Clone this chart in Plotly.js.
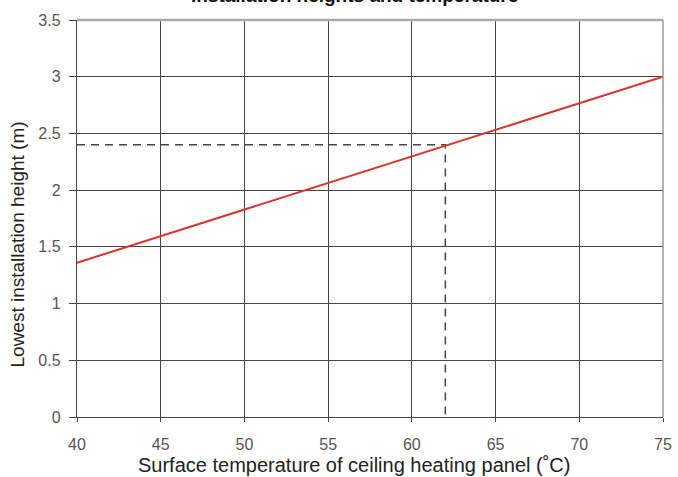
<!DOCTYPE html>
<html>
<head>
<meta charset="utf-8">
<script src="https://cdn.plot.ly/plotly-3.0.1.min.js"></script>
<style>html,body{margin:0;padding:0;background:#fff;}#chart{width:678px;height:477px;}</style>
</head>
<body>
<div id="chart"></div>
<script>
const chartTitle = "Installation heights and temperature";
const xTitle = "Surface temperature of ceiling heating panel (\u02DAC)";
const yTitle = "Lowest installation height (m)";
const lineTemp = [40, 75];
const lineHeight = [1.36, 3.0];
const refTemp = 62;
const refHeight = 2.4;
const xStart = 40;
const yStart = 0;
const xTicks = [40, 45, 50, 55, 60, 65, 70, 75];
const yTicks = [0, 0.5, 1, 1.5, 2, 2.5, 3, 3.5];
const yTickText = ["0", "0.5", "1", "1.5", "2", "2.5", "3", "3.5"];

const traces = [
  {
    x: [xStart, refTemp, refTemp],
    y: [refHeight, refHeight, yStart],
    mode: "lines",
    line: {color: "#444", width: 1.5, dash: "8px,6px"},
    hoverinfo: "skip"
  },
  {
    x: lineTemp,
    y: lineHeight,
    mode: "lines",
    line: {color: "#d8332f", width: 2},
    hoverinfo: "skip"
  }
];

const layout = {
  width: 678, height: 477,
  margin: {l: 77, r: 15, t: 20, b: 60},
  paper_bgcolor: "#fff", plot_bgcolor: "#fff",
  showlegend: false,
  font: {family: "Arial, Liberation Sans, sans-serif", color: "#333"},
  xaxis: {
    range: [40, 75], tickvals: xTicks, ticktext: xTicks.map(String),
    showgrid: true, gridcolor: "#444", gridwidth: 1.2,
    zeroline: false, showline: true, linecolor: "#444", linewidth: 1.2,
    ticks: "outside", ticklen: 4, tickcolor: "#444",
    ticklabelstandoff: 9,
    tickfont: {size: 16, color: "#555"}
  },
  yaxis: {
    range: [0, 3.5], tickvals: yTicks, ticktext: yTickText,
    showgrid: true, gridcolor: "#444", gridwidth: 1.2,
    zeroline: false, showline: true, linecolor: "#444", linewidth: 1.2,
    ticks: "outside", ticklen: 7, tickcolor: "#444",
    ticklabelstandoff: 5,
    tickfont: {size: 16, color: "#555"}
  },
  shapes: [
    {type: "line", xref: "paper", yref: "paper", x0: 0, x1: 1, y0: 1, y1: 1, line: {color: "#aaa", width: 2.5}},
    {type: "line", xref: "paper", yref: "paper", x0: 1, x1: 1, y0: 0, y1: 1, line: {color: "#999", width: 1.5}}
  ],
  annotations: [
    {text: "<b>" + chartTitle + "</b>", xref: "paper", yref: "paper", x: 0.474, y: 1,
     xanchor: "center", yanchor: "bottom", yshift: 12, showarrow: false,
     font: {size: 19, color: "#111"}},
    {text: xTitle, xref: "paper", yref: "paper", x: 0.472, y: 0,
     xanchor: "center", yanchor: "middle", yshift: -48, showarrow: false,
     font: {size: 20, color: "#222"}},
    {text: yTitle, xref: "paper", yref: "paper", x: 0, y: 0.5, textangle: -90,
     xanchor: "center", yanchor: "middle", xshift: -60, yshift: -26, showarrow: false,
     font: {size: 19, color: "#222"}}
  ]
};

Plotly.newPlot("chart", traces, layout, {displayModeBar: false, staticPlot: true});
</script>
</body>
</html>
